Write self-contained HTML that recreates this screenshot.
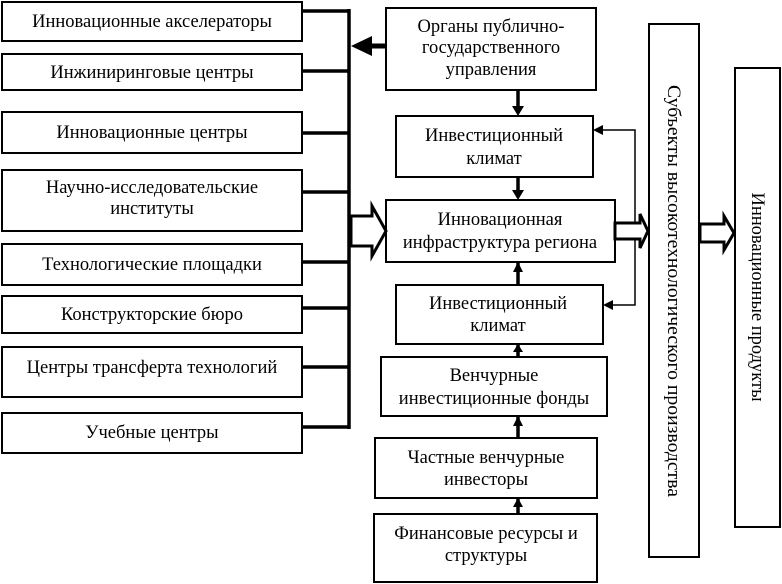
<!DOCTYPE html>
<html><head><meta charset="utf-8"><style>
body{margin:0;background:#fff}
svg{display:block}
text{font-family:"Liberation Serif","DejaVu Serif",serif;font-size:18.5px;fill:#000}
</style></head><body>
<svg width="782" height="584" viewBox="0 0 782 584" xmlns="http://www.w3.org/2000/svg">
<g fill="#fff" stroke="#000" stroke-width="2">
<rect x="2" y="2" width="300" height="39"/>
<rect x="2" y="54" width="300" height="36"/>
<rect x="2" y="112" width="300" height="41"/>
<rect x="2" y="170" width="300" height="61"/>
<rect x="2" y="244" width="300" height="41"/>
<rect x="2" y="296" width="300" height="37"/>
<rect x="2" y="347" width="300" height="50"/>
<rect x="2" y="413" width="300" height="40"/>
<rect x="386" y="8" width="210" height="82"/>
<rect x="396" y="116" width="197" height="61"/>
<rect x="386" y="200" width="229" height="62"/>
<rect x="396" y="285" width="207" height="59"/>
<rect x="381" y="357" width="226" height="59"/>
<rect x="375" y="438" width="222" height="60"/>
<rect x="374" y="514" width="223" height="68"/>
<rect x="649" y="24" width="50" height="533"/>
<rect x="735" y="68" width="45" height="459"/>
</g>
<g stroke="#000" stroke-width="3.5" fill="none">
<line x1="349" y1="9" x2="349" y2="429"/>
<line x1="302" y1="11" x2="349" y2="11"/>
<line x1="302" y1="71" x2="349" y2="71"/>
<line x1="302" y1="133" x2="349" y2="133"/>
<line x1="302" y1="192" x2="349" y2="192"/>
<line x1="302" y1="262" x2="349" y2="262"/>
<line x1="302" y1="308" x2="349" y2="308"/>
<line x1="302" y1="367" x2="349" y2="367"/>
<line x1="302" y1="427" x2="349" y2="427"/>
<line x1="386" y1="46" x2="370" y2="46" stroke-width="5"/>
<line x1="518" y1="90" x2="518" y2="108"/>
<line x1="518" y1="177" x2="518" y2="192"/>
<line x1="518" y1="262" x2="518" y2="285"/>
<line x1="518" y1="344" x2="518" y2="357"/>
<line x1="518" y1="416" x2="518" y2="438"/>
<line x1="518" y1="498" x2="518" y2="514"/>
</g>
<g fill="#000">
<polygon points="351,46 372,36 372,56"/>
<polygon points="512,106 524,106 518,116"/>
<polygon points="512,190 524,190 518,200"/>
<polygon points="513,272 523,272 518,262"/>
<polygon points="513,352 523,352 518,344"/>
<polygon points="513,426 523,426 518,416"/>
<polygon points="513,507 523,507 518,498"/>
<polygon points="593,130 603,125 603,135"/>
<polygon points="603,305 613,300 613,310"/>
</g>
<g stroke="#000" stroke-width="1.5" fill="none">
<polyline points="600,130 635,130 635,305 610,305"/>
</g>
<g fill="#fff" stroke="#000" stroke-width="3">
<polygon points="351,216 372,216 372,206 386,231 372,256 372,246 351,246"/>
<polygon points="615,223 640,223 640,214 648,231 640,248 640,239 615,239"/>
<polygon points="700,224 724,224 724,216 734,233 724,250 724,242 700,242"/>
</g>
<g text-anchor="middle">
<text x="152" y="27">Инновационные акселераторы</text>
<text x="152" y="78">Инжиниринговые центры</text>
<text x="152" y="138">Инновационные центры</text>
<text x="152" y="193">Научно-исследовательские</text>
<text x="152" y="214">институты</text>
<text x="152" y="270">Технологические площадки</text>
<text x="152" y="320">Конструкторские бюро</text>
<text x="152" y="373">Центры трансферта технологий</text>
<text x="152" y="438">Учебные центры</text>
<text x="491" y="32">Органы публично-</text>
<text x="491" y="53">государственного</text>
<text x="491" y="75">управления</text>
<text x="494" y="141">Инвестиционный</text>
<text x="494" y="164">климат</text>
<text x="500" y="225">Инновационная</text>
<text x="500" y="248">инфраструктура региона</text>
<text x="498" y="309">Инвестиционный</text>
<text x="498" y="331">климат</text>
<text x="494" y="381">Венчурные</text>
<text x="494" y="404">инвестиционные фонды</text>
<text x="486" y="463">Частные венчурные</text>
<text x="486" y="485">инвесторы</text>
<text x="486" y="539">Финансовые ресурсы и</text>
<text x="486" y="561">структуры</text>
<text transform="translate(668,291) rotate(90)" textLength="412" lengthAdjust="spacingAndGlyphs">Субъекты высокотехнологического производства</text>
<text transform="translate(752,297) rotate(90)">Инновационные продукты</text>
</g>
</svg>
</body></html>
